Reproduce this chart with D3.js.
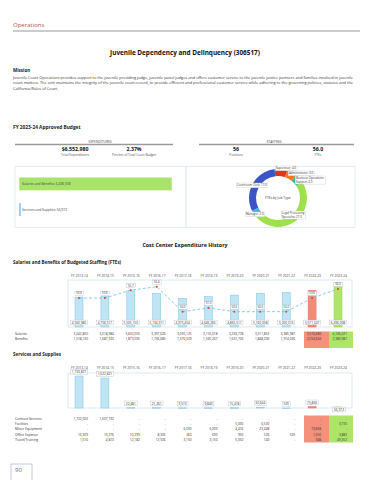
<!DOCTYPE html>
<html lang="en">
<head>
  <meta charset="UTF-8">
  <title>Juvenile Dependency and Delinquency (306517)</title>
  <style>
    body { margin: 0; background: #fff; }
    svg { display: block; font-family: 'Open Sans', sans-serif; }
  </style>
</head>
<body>
  <div id="page"></div>
  <script src="https://d3js.org/d3.v7.min.js"></script>
  <script>
    // ---- data ----
    var years = ['FY 2013-14', 'FY 2014-15', 'FY 2015-16', 'FY 2016-17', 'FY 2017-18', 'FY 2018-19',
      'FY 2019-20', 'FY 2020-21', 'FY 2021-22', 'FY 2022-23', 'FY 2023-24']
    var sbTotals = [4560980, 4706517, 5505150, 5134311, 4375454, 4646265, 4865511, 5160058, 5300013, 5571347, 6496008]
    var salaries = [3042850, 3018984, 3632055, 3397626, 3005125, 3116018, 3233778, 3311852, 3385987, 3516683, 4106021]
    var benefits = [1518130, 1687533, 1873095, 1736685, 1370329, 1530247, 1631733, 1848206, 1914026, 2054664, 2389987]
    var ftes = [53.6, 53.6, 55.7, 56.6, 50.0, 51.0, 50.0, 50.0, 50.0, 53.6, 56.0]

    var svcTotals = [1733827, 1622821, 22481, 21261, 9513, 9840, 15418, 30644, 520, 75856, 56972]
    var svcRows = ['Contract Services', 'Facilities', 'Minor Equipment', 'Office Expense', 'Travel/Training']
    var contract = [1722002, 1607732, 0, 0, 0, 0, 0, 0, 0, 0, 0]
    var facilities = [0, 0, 0, 0, 0, 0, 5000, 6530, 0, 0, 3735]
    var minorEquip = [0, 0, 0, 0, 6000, 6000, 4416, 23448, 0, 73858, 0]
    var officeExp = [10309, 10276, 10299, 8335, 363, 690, 950, 526, 520, 1050, 3885]
    var travel = [1516, 4813, 12182, 12926, 3150, 3150, 5052, 140, 0, 948, 49352]

    var budgetCats = ['Salaries and Benefits', 'Services and Supplies']
    var budgetVals = [6496008, 56972]
    var jobTypes = ['Supervisor', 'Administrator', 'Business Operations Support', 'Legal Processing Specialist', 'Manager', 'Courtroom Clerk']
    var jobFtes = [4.0, 3.0, 3.0, 27.0, 2.0, 17.0]

    var mission = [
      'Juvenile Court Operations provides support to the juvenile presiding judge, juvenile panel judges and offers customer service to the juvenile justice partners and families involved in juvenile',
      'court matters.  The unit maintains the integrity of the juvenile court record, to provide efficient and professional customer service while adhering to the governing policies, statutes and the',
      'California Rules of Court.'
    ]

    var W = 370, H = 480
    var fmt = d3.format(',')
    var dash = function(v) { return v ? fmt(v) : '-' }
    var svg = d3.select('#page').append('svg').attr('width', W).attr('height', H)

    function txt(x, y, s, size, opts) {
      opts = opts || {}
      return svg.append('text').attr('x', x).attr('y', y).attr('font-size', size)
        .attr('fill', opts.fill || '#222').attr('font-weight', opts.bold ? 700 : 400)
        .attr('text-anchor', opts.anchor || 'start').text(s)
    }

    // header
    txt(13, 27, 'Operations', 6, {fill: '#c0504d'})
    svg.append('line').attr('x1', 13).attr('x2', 360).attr('y1', 31).attr('y2', 31).attr('stroke', '#7f7f7f').attr('stroke-width', 0.8)
    txt(185, 54.5, 'Juvenile Dependency and Delinquency (306517)', 6.4, {bold: true, anchor: 'middle', fill: '#111'})
    txt(13, 72, 'Mission', 4.5, {bold: true})
    mission.forEach(function(line, i) {
      var t = txt(13, 78.5 + i * 5.8, line, 3.9, {fill: '#333'})
      if (i < 2) t.attr('textLength', 340).attr('lengthAdjust', 'spacingAndGlyphs')
    })

    // approved budget
    txt(13, 129, 'FY 2023-24 Approved Budget', 4.8, {bold: true})
    txt(100, 142.5, 'EXPENDITURES', 3.3, {anchor: 'middle', fill: '#444'})
    txt(274, 142.5, 'STAFFING', 3.3, {anchor: 'middle', fill: '#444'})
    svg.append('line').attr('x1', 15).attr('x2', 173).attr('y1', 144.5).attr('y2', 144.5).attr('stroke', '#9a9a9a').attr('stroke-width', 1.3)
    svg.append('line').attr('x1', 199).attr('x2', 354).attr('y1', 144.5).attr('y2', 144.5).attr('stroke', '#9a9a9a').attr('stroke-width', 1.3)
    var kpis = [[75, '$6,552,980', 'Total Expenditures'], [134, '2.37%', 'Percent of Total Court Budget'],
      [236, '56', 'Positions'], [318, '56.0', 'FTEs']]
    kpis.forEach(function(k) {
      txt(k[0], 150.5, k[1], 5.2, {bold: true, anchor: 'middle', fill: '#111'})
      txt(k[0], 156, k[2], 3.2, {anchor: 'middle', fill: '#555'})
    })
    svg.append('rect').attr('x', 15).attr('y', 166.5).attr('width', 171).attr('height', 61)
      .attr('fill', 'none').attr('stroke', '#d6e6f2').attr('stroke-width', 0.7)
    svg.append('rect').attr('x', 186).attr('y', 166.5).attr('width', 169).attr('height', 61)
      .attr('fill', 'none').attr('stroke', '#d6e6f2').attr('stroke-width', 0.7)

    var bx = d3.scaleLinear().domain([0, d3.max(budgetVals)]).range([0, 152.4])
    var by = d3.scaleBand().domain(budgetCats).range([177.5, 216]).paddingInner(0.5)
    budgetCats.forEach(function(c, i) {
      svg.append('rect').attr('x', 19.3).attr('y', by(c)).attr('width', Math.max(bx(budgetVals[i]), 0.9))
        .attr('height', by.bandwidth()).attr('fill', i === 0 ? '#a9e36b' : '#6cb9e6')
      txt(22, by(c) + by.bandwidth() / 2 + 1.2, c + ': ' + fmt(budgetVals[i]), 3.3, {fill: '#444'})
    })

    // donut
    var jobColors = ['#e3321f', '#ef7a1e', '#3db79b', '#9fe04d', '#3fb6e2', '#3b55c6']
    var cx = 278, cy = 198
    var pie = d3.pie().sort(null).startAngle(-7 * Math.PI / 180).endAngle(353 * Math.PI / 180)
    var arc = d3.arc().innerRadius(22).outerRadius(29)
    var gDonut = svg.append('g').attr('transform', 'translate(' + cx + ',' + cy + ')')
    gDonut.selectAll('path').data(pie(jobFtes)).enter().append('path')
      .attr('d', arc).attr('fill', function(d, i) { return jobColors[i] })
    txt(cx, cy + 1.2, 'FTEs by Job Type', 3.3, {anchor: 'middle', fill: '#333'})
    var jobLabelPos = [[275, 168.5], [288, 173.5], [295, 178.5], [281, 213.5], [245, 214.5], [236, 185.5]]
    jobTypes.forEach(function(j, i) {
      var lines = [j + ': ' + jobFtes[i].toFixed(1)]
      if (j.length > 20) {
        var w = j.split(' ')
        lines = [w.slice(0, 2).join(' '), w.slice(2).join(' ') + ': ' + jobFtes[i].toFixed(1)]
      }
      var p = jobLabelPos[i]
      var g = svg.append('g')
      var t = g.append('text').attr('font-size', 2.9).attr('fill', '#333')
      lines.forEach(function(l, k) {
        t.append('tspan').attr('x', p[0] + 1).attr('y', p[1] + 0.9 + k * 3.3).text(l)
      })
      var bb = t.node().getBBox()
      g.insert('rect', 'text').attr('x', bb.x - 0.8).attr('y', bb.y - 0.4).attr('width', bb.width + 1.6)
        .attr('height', bb.height + 0.8).attr('fill', '#fff').attr('stroke', '#bbb').attr('stroke-width', 0.3)
    })

    // cost center history
    txt(185, 246.5, 'Cost Center Expenditure History', 5.3, {bold: true, anchor: 'middle', fill: '#111'})
    txt(13, 264, 'Salaries and Benefits of Budgeted Staffing (FTEs)', 4.5, {bold: true})

    var x = d3.scalePoint().domain(years).range([79, 338])
    var barW = 8
    var barFill = function(i) { return i === 9 ? '#f18c79' : i === 10 ? '#afe56b' : '#bfe5f5' }
    var barStroke = function(i) { return i === 9 ? '#e0705c' : i === 10 ? '#8fd24a' : '#7cc6e2' }

    function yearAxis(y) {
      var ax = svg.append('g').attr('transform', 'translate(0,' + y + ')')
        .call(d3.axisTop(x).tickSize(0).tickPadding(0))
      ax.select('.domain').remove()
      ax.selectAll('text').attr('font-size', 3.3).attr('fill', '#444').attr('font-family', 'Open Sans, sans-serif')
    }

    function labelBox(cxp, cyp, s, size) {
      var g = svg.append('g')
      var t = g.append('text').attr('x', cxp).attr('y', cyp + size * 0.35).attr('text-anchor', 'middle')
        .attr('font-size', size).attr('fill', '#333').text(s)
      var bb = t.node().getBBox()
      g.insert('rect', 'text').attr('x', bb.x - 1.2).attr('y', cyp - size * 0.75).attr('width', bb.width + 2.4)
        .attr('height', size * 1.5).attr('fill', '#fff').attr('stroke', '#aab4bf').attr('stroke-width', 0.35)
    }

    yearAxis(277)
    svg.append('rect').attr('x', 68).attr('y', 280).attr('width', 284).attr('height', 47)
      .attr('fill', 'none').attr('stroke', '#cfe2ee').attr('stroke-width', 0.7)
    var y1 = d3.scaleLinear().domain([0, 6500000]).range([327, 284.4])
    var yF = d3.scaleLinear().domain([50, 56]).range([311.7, 289])
    svg.append('g').selectAll('rect').data(sbTotals).enter().append('rect')
      .attr('x', function(d, i) { return x(years[i]) - barW / 2 })
      .attr('y', function(d) { return y1(d) })
      .attr('width', barW).attr('height', function(d) { return 327 - y1(d) })
      .attr('fill', function(d, i) { return barFill(i) })
      .attr('stroke', function(d, i) { return barStroke(i) }).attr('stroke-width', 0.5)
    var fteLine = d3.line().x(function(d, i) { return x(years[i]) }).y(function(d) { return yF(d) })
    svg.append('path').datum(ftes).attr('d', fteLine).attr('fill', 'none')
      .attr('stroke', '#7cc8e4').attr('stroke-width', 0.9).attr('stroke-dasharray', '3,2')
    ftes.forEach(function(v, i) {
      labelBox(x(years[i]), yF(v) - 4.6, v.toFixed(1), 2.9)
      svg.append('circle').attr('cx', x(years[i])).attr('cy', yF(v)).attr('r', 1).attr('fill', '#e2402e')
    })
    sbTotals.forEach(function(v, i) { labelBox(x(years[i]), 322.5, fmt(v), 3.2) })

    // table 1
    svg.append('rect').attr('x', 304).attr('y', 331.5).attr('width', 25).attr('height', 16.5).attr('fill', '#f4907c')
    svg.append('rect').attr('x', 329).attr('y', 331.5).attr('width', 24).attr('height', 16.5).attr('fill', '#aee568')
    ;[['Salaries', salaries], ['Benefits', benefits]].forEach(function(row, r) {
      var yy = 335.2 + r * 5
      txt(15, yy, row[0], 3.3, {fill: '#333'})
      row[1].forEach(function(v, i) { txt(x(years[i]) + 9, yy, dash(v), 3.2, {anchor: 'end', fill: '#333'}) })
    })

    // services and supplies
    txt(13, 355.5, 'Services and Supplies', 4.5, {bold: true})
    yearAxis(368.5)
    svg.append('rect').attr('x', 68).attr('y', 373).attr('width', 284).attr('height', 35)
      .attr('fill', 'none').attr('stroke', '#cfe2ee').attr('stroke-width', 0.7)
    var y2 = d3.scaleLinear().domain([0, 1733827]).range([408, 376])
    svg.append('g').selectAll('rect').data(svcTotals).enter().append('rect')
      .attr('x', function(d, i) { return x(years[i]) - barW / 2 })
      .attr('y', function(d) { return y2(d) })
      .attr('width', barW).attr('height', function(d) { return Math.max(408 - y2(d), 0.6) })
      .attr('fill', function(d, i) { return barFill(i) })
      .attr('stroke', function(d, i) { return barStroke(i) }).attr('stroke-width', 0.5)
    svcTotals.forEach(function(v, i) {
      var ly = i === years.length - 1 ? 409.5 : Math.min(y2(v) - 4.2, 404)
      labelBox(x(years[i]) + (i === years.length - 1 ? 1 : 0), ly, fmt(v), 3.2)
    })

    // table 2
    svg.append('rect').attr('x', 304).attr('y', 415.5).attr('width', 25).attr('height', 27).attr('fill', '#f4907c')
    svg.append('rect').attr('x', 329).attr('y', 415.5).attr('width', 24).attr('height', 27).attr('fill', '#aee568')
    ;[contract, facilities, minorEquip, officeExp, travel].forEach(function(vals, r) {
      var yy = 419.5 + r * 5.4
      txt(15, yy, svcRows[r], 3.3, {fill: '#333'})
      vals.forEach(function(v, i) { txt(x(years[i]) + 9, yy, dash(v), 3.2, {anchor: 'end', fill: '#333'}) })
    })

    // page number
    svg.append('path').attr('d', 'M11,480 V464 H32 V480').attr('fill', 'none').attr('stroke', '#9aa6c4').attr('stroke-width', 0.6)
    txt(15, 472, '90', 6, {fill: '#4f66a8'})
  </script>
</body>
</html>
